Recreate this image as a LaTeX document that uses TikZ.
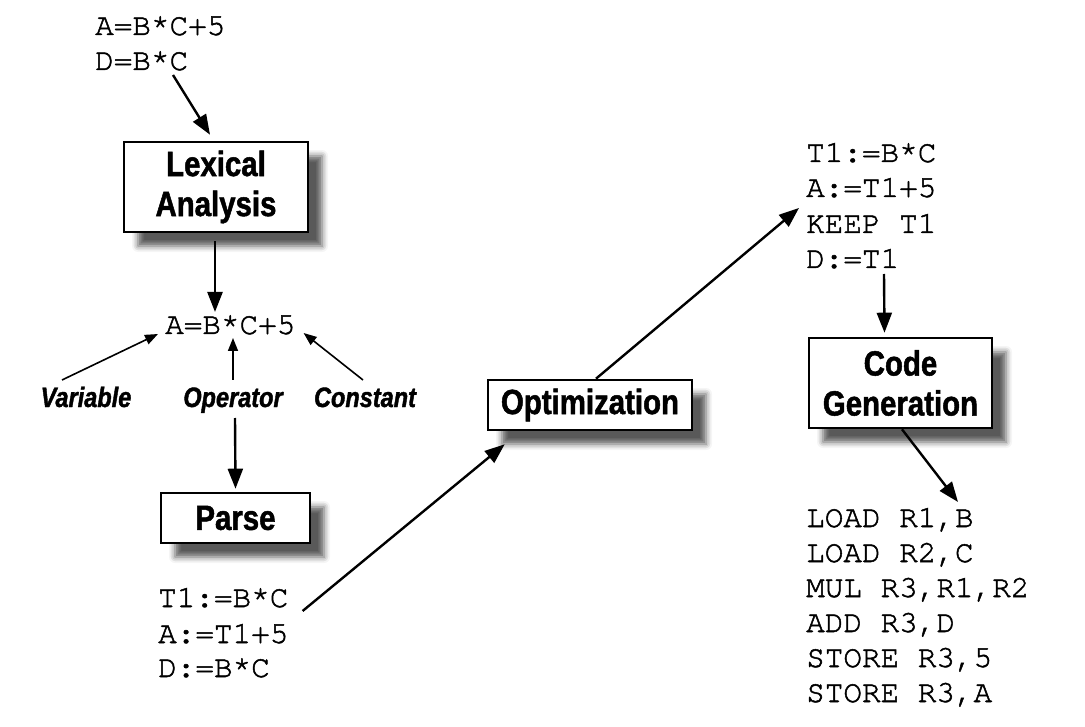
\documentclass[tikz,border=0pt]{standalone}
\usepackage{fontspec}
\usetikzlibrary{arrows.meta,calc,shadows.blur}
\newfontfamily\codefont{TeX Gyre Cursor}[FakeBold=1.6]
\newfontfamily\stagefam{Liberation Sans}[FakeStretch=0.84, FakeBold=1.4]
\tikzset{
  stage/.style={draw, line width=2.6pt, fill=white, inner sep=0pt, align=center,
    font=\stagefam\bfseries\fontsize{35}{40}\selectfont,
    blur shadow={shadow xshift=14pt, shadow yshift=-14pt, shadow blur radius=6pt, shadow opacity=65}},
  code/.style={font=\codefont\fontsize{31}{35}\selectfont, inner sep=0pt, anchor=base west},
  tag/.style={font=\stagefam\bfseries\itshape\fontsize{28}{32}\selectfont, inner sep=0pt, anchor=base},
  arr/.style={line width=2.4pt, -{Triangle[length=20pt,width=15pt]}},
  thinarr/.style={line width=1.6pt, -{Triangle[length=13pt,width=10pt]}},
}
\begin{document}
\begin{tikzpicture}[x=1pt,y=-1pt]
\useasboundingbox (0,0) rectangle (1085,727);
% source code
\node[code] (t1) at (95,35) {A=B*C+5};
\node[code] (t2) at (95,70) {D=B*C};
% stages
\node[stage, minimum width=184pt, minimum height=90pt] (lex) at (216,187) {Lexical\\Analysis};
\node[stage, minimum width=149pt, minimum height=50pt] (parse) at (235.5,518) {Parse};
\node[stage, minimum width=204pt, minimum height=50pt] (opt) at (590,405) {Optimization};
\node[stage, minimum width=183pt, minimum height=90pt] (cg) at (900.5,383) {Code\\Generation};
% token stream
\node[code] (expr) at (165,334) {A=B*C+5};
\node[tag] (var) at (86,407) {Variable};
\node[tag] (op) at (233,407) {Operator};
\node[tag] (con) at (365,407) {Constant};
% parse output
\node[code] (p1) at (158,607) {T1:=B*C};
\node[code] (p2) at (158,643) {A:=T1+5};
\node[code] (p3) at (158,677) {D:=B*C};
% optimized
\node[code] (r1) at (806,162) {T1:=B*C};
\node[code] (r2) at (806,197) {A:=T1+5};
\node[code] (r3) at (806,233) {KEEP T1};
\node[code] (r4) at (806,268) {D:=T1};
% generated code
\node[code] (g1) at (806,527) {LOAD R1,B};
\node[code] (g2) at (806,562) {LOAD R2,C};
\node[code] (g3) at (806,597) {MUL R3,R1,R2};
\node[code] (g4) at (806,632) {ADD R3,D};
\node[code] (g5) at (806,667) {STORE R3,5};
\node[code] (g6) at (806,702) {STORE R3,A};
% connectors
\draw[arr] ($(t2.base west)+(78,5)$) -- ($(lex.north)+(-6,-6)$);
\draw[arr] ($(lex.south)+(-1,8)$) -- ($(expr.base west)+(50,-22)$);
\draw[thinarr] ($(var.base)+(-24,-27)$) -- ($(expr.base west)+(-7,0)$);
\draw[thinarr] ($(op.base)+(0,-27)$) -- ($(expr.base west)+(68,4)$);
\draw[thinarr] ($(con.base)+(-2,-27)$) -- ($(expr.base east)+(8,-1)$);
\draw[arr] ($(op.base)+(2,11)$) -- ($(parse.north)+(0,-3)$);
\draw[arr] ($(p1.base east)+(14,4)$) -- ($(opt.south west)+(18,13)$);
\draw[arr] ($(opt.north)+(6,0)$) -- ($(r2.base west)+(-7,11)$);
\draw[arr] ($(r4.base west)+(78,6)$) -- ($(cg.north)+(-16,-4)$);
\draw[arr] ($(cg.south)+(1.5,0)$) -- ($(g1.base west)+(152,-25)$);
\end{tikzpicture}
\end{document}
